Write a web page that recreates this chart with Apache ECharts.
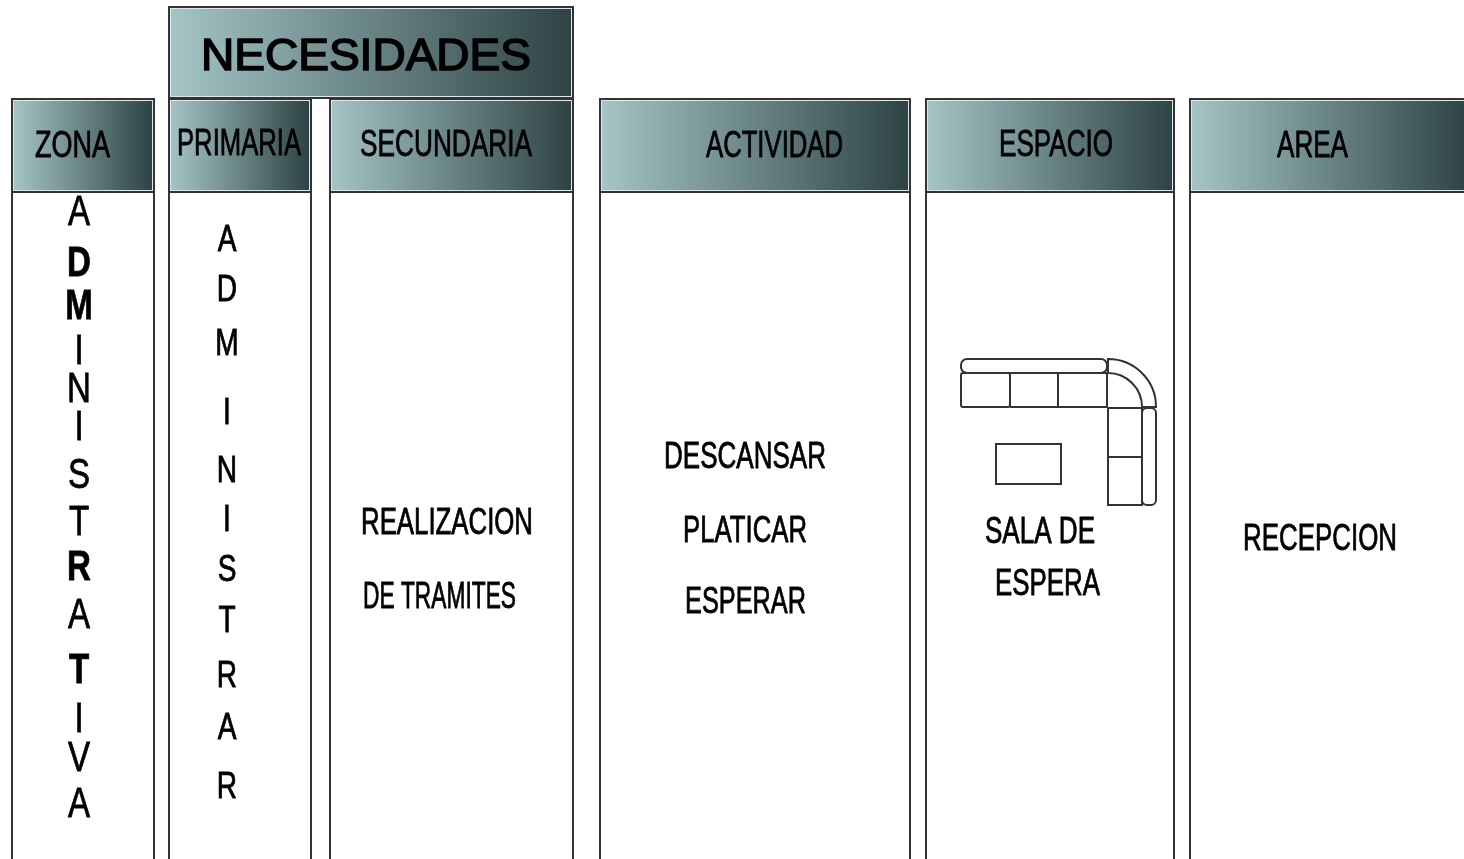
<!DOCTYPE html>
<html>
<head>
<meta charset="utf-8">
<style>html,body{margin:0;padding:0;background:#fff}#main{width:1464px;height:859px}</style>
<script src="https://cdn.jsdelivr.net/npm/echarts@6/dist/echarts.min.js"></script>
</head>
<body>
<div id="main"></div>
<script>
// textos del cuadro
var headers = ['NECESIDADES', 'ZONA', 'PRIMARIA', 'SECUNDARIA', 'ACTIVIDAD', 'ESPACIO', 'AREA'];
var cellTexts = ['REALIZACION', 'DE TRAMITES', 'DESCANSAR', 'PLATICAR', 'ESPERAR', 'SALA DE', 'ESPERA', 'RECEPCION'];
var zoneLetters = ['A', 'D', 'M', 'I', 'N', 'I', 'S', 'T', 'R', 'A', 'T', 'I', 'V', 'A'];
var primaryLetters = ['A', 'D', 'M', 'I', 'N', 'I', 'S', 'T', 'R', 'A', 'R'];

// posiciones (en pixeles de la imagen): [izq, der, arriba, abajo]
var headerBoxes = [[169, 573, 7, 98], [12, 154, 99, 192], [169, 311, 99, 192], [330, 573, 99, 192], [600, 910, 99, 192], [926, 1174, 99, 192], [1190, 1470, 99, 192]];
var columnBoxes = [[12, 154, 192, 870], [169, 311, 192, 870], [330, 573, 192, 870], [600, 910, 192, 870], [926, 1174, 192, 870], [1190, 1470, 192, 870]];
// [izq, der, centro y, altura de mayuscula]
var headerSpans = [[201, 531, 55, 32], [35, 110, 144, 26], [177, 301, 142, 26], [360, 532, 143, 26], [706, 843, 144, 26], [999, 1113, 143, 26], [1277, 1348, 144, 26]];
var cellSpans = [[361, 533, 521, 26], [363, 516, 595, 26], [664, 826, 455, 26], [683, 807, 529, 26], [685, 806, 600, 26], [985, 1095, 530, 26], [995, 1100, 582, 26], [1243, 1397, 537, 26]];
var zoneY = [211, 262, 305, 350, 388, 426, 474, 521, 566, 614, 669, 718, 757, 803];
var zoneBold = [false, true, true, false, false, false, false, false, true, false, true, false, false, false];
var primaryY = [239, 289, 343, 412, 470, 519, 569, 620, 675, 727, 786];

// sala: [izq, der, arriba, abajo, radio]
var sofaRects = [[961, 1107, 359, 373, 6], [961, 1010, 373, 407, 2], [1010, 1058, 373, 407, 1], [1058, 1107, 373, 407, 0],
    [1108, 1142, 408, 457, 0], [1108, 1142, 457, 505, 0], [1142, 1156, 408, 505, 5], [996, 1061, 444, 484, 0]];
var sofaCorner = [[1108, 407, 34, 48]];

var measure = document.createElement('canvas').getContext('2d');
var FONT = '"Liberation Sans", Arial, sans-serif';

function fitText(text, span, api) {
    var size = Math.round(span[3] / 0.716);
    var font = size + 'px ' + FONT;
    measure.font = font;
    var p = api.coord([span[0], span[2]]);
    return {
        type: 'text', x: p[0], y: p[1] + 3,
        scaleX: (span[1] - span[0]) / measure.measureText(text).width,
        style: { text: text, font: font, fill: '#000', stroke: '#000', lineWidth: size > 40 ? 1.6 : 0.8, align: 'left', verticalAlign: 'middle' }
    };
}

function boxShape(b, api) {
    var p = api.coord([b[0], b[2]]), q = api.coord([b[1], b[3]]);
    return { x: p[0], y: p[1], width: q[0] - p[0], height: q[1] - p[1], r: b[4] || 0 };
}

function stackSeries(letters, ys, x, size, scaleX, bold) {
    return {
        type: 'custom', coordinateSystem: 'cartesian2d', silent: true, z: 5,
        data: ys.map(function (y, i) { return [x, y, i]; }),
        renderItem: function (params, api) {
            var i = api.value(2), p = api.coord([api.value(0), api.value(1)]);
            return {
                type: 'text', x: p[0], y: p[1] + 2, scaleX: scaleX,
                style: {
                    text: letters[i], fill: '#000', stroke: '#000', lineWidth: 0.8, align: 'center', verticalAlign: 'middle',
                    font: (bold && bold[i] ? 'bold ' : '') + size + 'px ' + FONT
                }
            };
        }
    };
}

var option = {
    animation: false,
    backgroundColor: '#fff',
    grid: { left: 0, right: 0, top: 0, bottom: 0 },
    xAxis: { type: 'value', min: 0, max: 1464, show: false },
    yAxis: { type: 'value', min: 0, max: 859, inverse: true, show: false },
    series: [
        { // columnas
            type: 'custom', silent: true, z: 1,
            data: columnBoxes,
            renderItem: function (params, api) {
                return { type: 'rect', shape: boxShape(columnBoxes[params.dataIndex], api), style: { fill: '#fff', stroke: '#333', lineWidth: 2 } };
            }
        },
        { // encabezados con degradado
            type: 'custom', silent: true, z: 2,
            data: headerBoxes,
            renderItem: function (params, api) {
                var s = boxShape(headerBoxes[params.dataIndex], api);
                return {
                    type: 'group',
                    children: [
                        { type: 'rect', shape: s, style: { fill: '#dfe8e8', stroke: '#333', lineWidth: 2 } },
                        {
                            type: 'rect',
                            shape: { x: s.x + 2, y: s.y + 2, width: s.width - 4, height: s.height - 4 },
                            style: {
                                fill: new echarts.graphic.LinearGradient(0, 0, 1, 0, [
                                    { offset: 0, color: '#a4c4c6' },
                                    { offset: 1, color: '#2e4344' }
                                ])
                            }
                        },
                        fitText(headers[params.dataIndex], headerSpans[params.dataIndex], api)
                    ]
                };
            }
        },
        { // textos de las celdas
            type: 'custom', silent: true, z: 5,
            data: cellTexts,
            renderItem: function (params, api) {
                return fitText(cellTexts[params.dataIndex], cellSpans[params.dataIndex], api);
            }
        },
        stackSeries(zoneLetters, zoneY, 79, 43, 0.77, zoneBold),
        stackSeries(primaryLetters, primaryY, 227, 36, 0.78, null),
        { // sillones y mesa
            type: 'custom', silent: true, z: 4,
            data: sofaRects,
            renderItem: function (params, api) {
                return { type: 'rect', shape: boxShape(sofaRects[params.dataIndex], api), style: { fill: 'none', stroke: '#333', lineWidth: 2 } };
            }
        },
        { // esquina del sillon
            type: 'custom', silent: true, z: 4,
            data: sofaCorner,
            renderItem: function (params, api) {
                var c = sofaCorner[params.dataIndex], p = api.coord([c[0], c[1]]);
                return {
                    type: 'sector',
                    shape: { cx: p[0], cy: p[1], r0: c[2], r: c[3], startAngle: -Math.PI / 2, endAngle: 0 },
                    style: { fill: 'none', stroke: '#333', lineWidth: 2 }
                };
            }
        }
    ]
};

var chart = echarts.init(document.getElementById('main'));
chart.setOption(option);
</script>
</body>
</html>
